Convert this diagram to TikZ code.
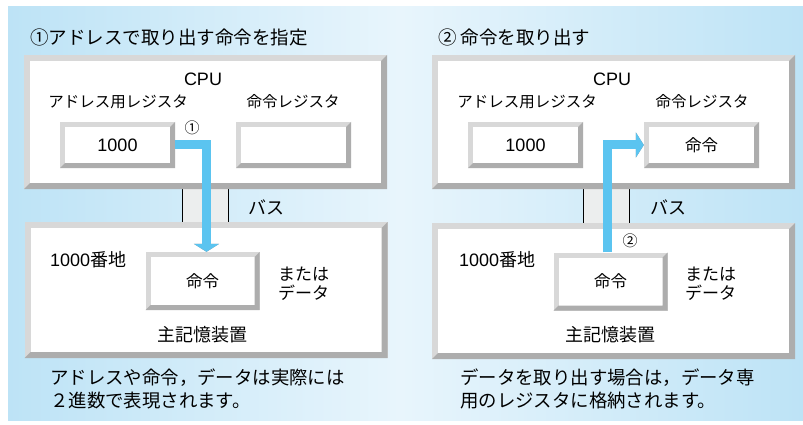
\documentclass[tikz,border=0pt]{standalone}
\usepackage{fontspec}
\setmainfont{Noto Sans CJK JP}
\newfontfamily\latfont{Liberation Sans}
\usetikzlibrary{arrows.meta,calc}
\definecolor{bgblue}{HTML}{BDE3F6}
\definecolor{bglight}{HTML}{E8F5FC}
\definecolor{bevlight}{HTML}{D8D8D8}
\definecolor{bevdark}{HTML}{ADADAD}
\definecolor{arrowblue}{HTML}{5BC4F0}
\definecolor{shadowgray}{HTML}{8C8C8C}
\definecolor{busfill}{HTML}{ECEEEE}
\tikzset{
  bev/.style={fill=bevlight, draw=none, inner sep=0pt, path picture={
    \fill[white] ([shift={(#1,-#1)}]path picture bounding box.north west) rectangle ([shift={(-#1,#1)}]path picture bounding box.south east);
    \fill[bevdark] (path picture bounding box.north east) -- (path picture bounding box.south east) -- (path picture bounding box.south west) -- ([shift={(#1,#1)}]path picture bounding box.south west) -- ([shift={(-#1,#1)}]path picture bounding box.south east) -- ([shift={(-#1,-#1)}]path picture bounding box.north east) -- cycle;
  }},
  bigbox/.style={bev=6pt, minimum width=363pt, minimum height=134pt},
  membox/.style={bev=6pt, minimum width=363pt, minimum height=136pt},
  regbox/.style={bev=5pt, minimum width=115pt, minimum height=46pt, font=\fontsize{18}{20}\selectfont},
  cellbox/.style={bev=5pt, minimum width=114pt, minimum height=58pt, font=\fontsize{16.5}{18}\selectfont},
  busbox/.style={fill=busfill, draw=none, minimum width=45pt, inner sep=0pt},
  txt/.style={inner sep=0pt, font=\fontsize{18}{20}\selectfont},
  smalltxt/.style={inner sep=0pt, font=\fontsize{15.5}{17}\selectfont},
  fatarrow/.style={draw=arrowblue, line width=9pt, -{Triangle[width=25pt,length=8pt]}},
  fatshadow/.style={draw=shadowgray, line width=9pt, -{Triangle[width=25pt,length=8pt]}},
}
\begin{document}
\begin{tikzpicture}[x=1pt,y=-1pt]
\useasboundingbox (0,0) rectangle (803,425);
\fill[white] (0,0) rectangle (803,425);
% backgrounds
\shade[left color=bgblue, right color=bglight] (8,7) rectangle (400,420);
\shade[left color=bglight, right color=bgblue] (400,7) rectangle (803,420);

% buses
\node[busbox, minimum height=34pt] (busL) at (205.5,205.5) {};
\draw[black, line width=0.8pt] (busL.north west) -- (busL.south west) (busL.north east) -- (busL.south east);
\node[busbox, minimum height=35pt] (busR) at (606.5,206) {};
\draw[black, line width=0.8pt] (busR.north west) -- (busR.south west) (busR.north east) -- (busR.south east);

% ---------- left panel ----------
\node[txt, anchor=west, font=\fontsize{18.5}{20}\selectfont] (titleL) at (30,37) {①アドレスで取り出す命令を指定};
\node[bigbox] (cpuL) at (205.5,122) {};
\node[membox] (memL) at (206,290) {};
\node[txt] (cpuLabelL) at (203,79) {\latfont CPU};
\node[smalltxt] (addrLabelL) at (118,102) {アドレス用レジスタ};
\node[smalltxt] (instrLabelL) at (293,102) {命令レジスタ};
\node[regbox] (addrL) at (117.5,145) {\latfont 1000};
\node[regbox] (instrL) at (293.5,145) {};
\node[cellbox] (cellL) at (202.5,281) {命令};
\node[txt, anchor=west] (busTxtL) at (248,207) {バス};
\node[txt, anchor=west] (addrNumL) at (50,260) {{\latfont 1000}番地};
\node[txt, anchor=west, font=\fontsize{17}{19}\selectfont, align=left] (orDataL) at (278,284) {または\\データ};
\node[txt] (mainMemL) at (202,335) {主記憶装置};
\node[txt, anchor=west, align=left, font=\fontsize{18.4}{23}\selectfont] (capL) at (50,388.5) {アドレスや命令，データは実際には\\２進数で表現されます。};

% ---------- right panel ----------
\node[txt, anchor=west, font=\fontsize{18.5}{20}\selectfont] (titleR) at (438,37) {② 命令を取り出す};
\node[bigbox] (cpuR) at (613.5,122) {};
\node[membox] (memR) at (613.5,291) {};
\node[txt] (cpuLabelR) at (612,79) {\latfont CPU};
\node[smalltxt] (addrLabelR) at (527,102) {アドレス用レジスタ};
\node[smalltxt] (instrLabelR) at (702,102) {命令レジスタ};
\node[regbox] (addrR) at (525.5,145) {\latfont 1000};
\node[regbox, font=\fontsize{16.5}{18}\selectfont] (instrR) at (701.5,145) {命令};
\node[cellbox] (cellR) at (610.5,281.5) {命令};
\node[txt, anchor=west] (busTxtR) at (650,207) {バス};
\node[txt, anchor=west] (addrNumR) at (459,260) {{\latfont 1000}番地};
\node[txt, anchor=west, font=\fontsize{17}{19}\selectfont, align=left] (orDataR) at (685,284) {または\\データ};
\node[txt] (mainMemR) at (610,335) {主記憶装置};
\node[txt, anchor=west, align=left, font=\fontsize{18.4}{23}\selectfont] (capR) at (460,388.5) {データを取り出す場合は，データ専\\用のレジスタに格納されます。};

% ---------- arrows ----------
\draw[fatshadow, shorten <=2pt, shift={(-2pt,-2pt)}] (addrL.east) -| ([xshift=4pt]cellL.north);
\draw[fatarrow] (addrL.east) -| ([xshift=4pt]cellL.north);
\node[smalltxt, font=\fontsize{15}{17}\selectfont] (num1) at (192,128) {①};

\draw[fatshadow, shorten <=2pt, shift={(2pt,-2pt)}] ([xshift=-3.5pt]cellR.north) |- (instrR.west);
\draw[fatarrow] ([xshift=-3.5pt]cellR.north) |- (instrR.west);
\node[smalltxt, font=\fontsize{15}{17}\selectfont] (num2) at (630,241) {②};
\end{tikzpicture}
\end{document}
